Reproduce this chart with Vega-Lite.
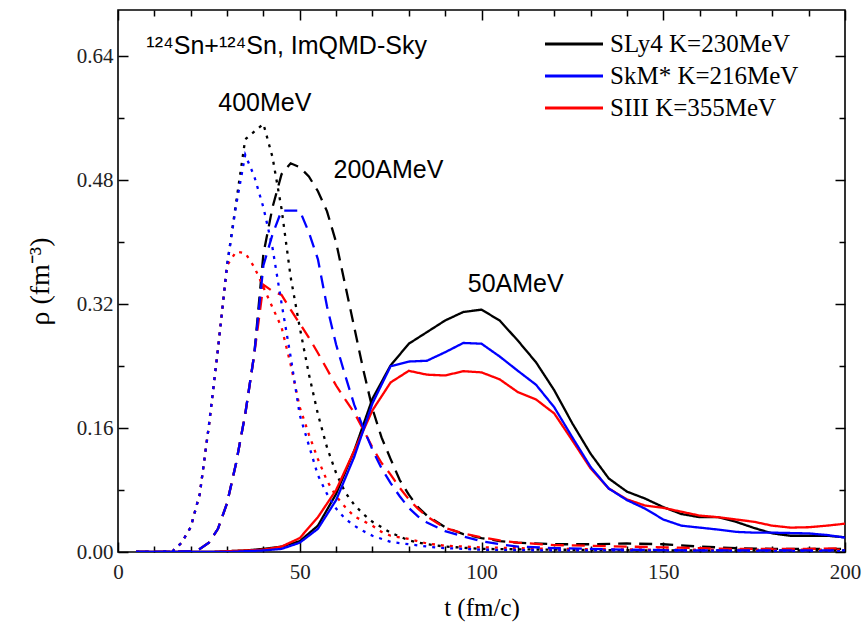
{
"$schema": "https://vega.github.io/schema/vega-lite/v6.json",
"width": 727, "height": 542,
"autosize": {"type": "none"},
"padding": {"left": 118, "top": 10, "right": 18, "bottom": 75},
"background": "white",
"config": {"view": {"stroke": "#000", "strokeWidth": 1.6}},
"datasets": {
"curves": [
{"m":"SLy4","e":"50","t":5,"r":0},{"m":"SLy4","e":"50","t":10,"r":0},{"m":"SLy4","e":"50","t":15,"r":0},{"m":"SLy4","e":"50","t":20,"r":0},{"m":"SLy4","e":"50","t":25,"r":0},{"m":"SLy4","e":"50","t":30,"r":0.001},{"m":"SLy4","e":"50","t":35,"r":0.002},{"m":"SLy4","e":"50","t":40,"r":0.004},{"m":"SLy4","e":"50","t":45,"r":0.007},{"m":"SLy4","e":"50","t":50,"r":0.014},{"m":"SLy4","e":"50","t":55,"r":0.034},{"m":"SLy4","e":"50","t":60,"r":0.075},{"m":"SLy4","e":"50","t":65,"r":0.131},{"m":"SLy4","e":"50","t":70,"r":0.198},{"m":"SLy4","e":"50","t":75,"r":0.241},{"m":"SLy4","e":"50","t":80,"r":0.269},{"m":"SLy4","e":"50","t":85,"r":0.284},{"m":"SLy4","e":"50","t":90,"r":0.299},{"m":"SLy4","e":"50","t":95,"r":0.31},{"m":"SLy4","e":"50","t":100,"r":0.313},{"m":"SLy4","e":"50","t":105,"r":0.299},{"m":"SLy4","e":"50","t":110,"r":0.273},{"m":"SLy4","e":"50","t":115,"r":0.245},{"m":"SLy4","e":"50","t":120,"r":0.209},{"m":"SLy4","e":"50","t":125,"r":0.166},{"m":"SLy4","e":"50","t":130,"r":0.127},{"m":"SLy4","e":"50","t":135,"r":0.095},{"m":"SLy4","e":"50","t":140,"r":0.078},{"m":"SLy4","e":"50","t":145,"r":0.069},{"m":"SLy4","e":"50","t":150,"r":0.058},{"m":"SLy4","e":"50","t":155,"r":0.049},{"m":"SLy4","e":"50","t":160,"r":0.045},{"m":"SLy4","e":"50","t":165,"r":0.045},{"m":"SLy4","e":"50","t":170,"r":0.039},{"m":"SLy4","e":"50","t":175,"r":0.031},{"m":"SLy4","e":"50","t":180,"r":0.024},{"m":"SLy4","e":"50","t":185,"r":0.021},{"m":"SLy4","e":"50","t":190,"r":0.021},{"m":"SLy4","e":"50","t":195,"r":0.021},{"m":"SLy4","e":"50","t":200,"r":0.019},

{"m":"SLy4","e":"200","t":5,"r":0},{"m":"SLy4","e":"200","t":10,"r":0},{"m":"SLy4","e":"200","t":15,"r":0},{"m":"SLy4","e":"200","t":20,"r":0.001},{"m":"SLy4","e":"200","t":22.5,"r":0.004},{"m":"SLy4","e":"200","t":25,"r":0.012},{"m":"SLy4","e":"200","t":27.5,"r":0.03},{"m":"SLy4","e":"200","t":30,"r":0.063},{"m":"SLy4","e":"200","t":32.5,"r":0.115},{"m":"SLy4","e":"200","t":35,"r":0.178},{"m":"SLy4","e":"200","t":37.5,"r":0.256},{"m":"SLy4","e":"200","t":40,"r":0.385},{"m":"SLy4","e":"200","t":42.5,"r":0.445},{"m":"SLy4","e":"200","t":45,"r":0.488},{"m":"SLy4","e":"200","t":47.5,"r":0.502},{"m":"SLy4","e":"200","t":50,"r":0.497},{"m":"SLy4","e":"200","t":52.5,"r":0.485},{"m":"SLy4","e":"200","t":55,"r":0.466},{"m":"SLy4","e":"200","t":57.5,"r":0.44},{"m":"SLy4","e":"200","t":60,"r":0.4},{"m":"SLy4","e":"200","t":62.5,"r":0.345},{"m":"SLy4","e":"200","t":65,"r":0.29},{"m":"SLy4","e":"200","t":67.5,"r":0.235},{"m":"SLy4","e":"200","t":70,"r":0.185},{"m":"SLy4","e":"200","t":72.5,"r":0.148},{"m":"SLy4","e":"200","t":75,"r":0.12},{"m":"SLy4","e":"200","t":77.5,"r":0.093},{"m":"SLy4","e":"200","t":80,"r":0.074},{"m":"SLy4","e":"200","t":82.5,"r":0.058},{"m":"SLy4","e":"200","t":85,"r":0.047},{"m":"SLy4","e":"200","t":90,"r":0.032},{"m":"SLy4","e":"200","t":95,"r":0.023},{"m":"SLy4","e":"200","t":100,"r":0.018},{"m":"SLy4","e":"200","t":105,"r":0.014},{"m":"SLy4","e":"200","t":110,"r":0.012},{"m":"SLy4","e":"200","t":120,"r":0.01},{"m":"SLy4","e":"200","t":130,"r":0.01},{"m":"SLy4","e":"200","t":140,"r":0.011},{"m":"SLy4","e":"200","t":150,"r":0.01},{"m":"SLy4","e":"200","t":160,"r":0.007},{"m":"SLy4","e":"200","t":170,"r":0.005},{"m":"SLy4","e":"200","t":180,"r":0.004},{"m":"SLy4","e":"200","t":190,"r":0.004},{"m":"SLy4","e":"200","t":200,"r":0.004},

{"m":"SLy4","e":"400","t":5,"r":0},{"m":"SLy4","e":"400","t":10,"r":0},{"m":"SLy4","e":"400","t":15,"r":0.001},{"m":"SLy4","e":"400","t":17.5,"r":0.012},{"m":"SLy4","e":"400","t":20,"r":0.032},{"m":"SLy4","e":"400","t":22.5,"r":0.075},{"m":"SLy4","e":"400","t":25,"r":0.163},{"m":"SLy4","e":"400","t":27.5,"r":0.262},{"m":"SLy4","e":"400","t":30,"r":0.37},{"m":"SLy4","e":"400","t":35,"r":0.533},{"m":"SLy4","e":"400","t":40,"r":0.553},{"m":"SLy4","e":"400","t":42.5,"r":0.51},{"m":"SLy4","e":"400","t":45,"r":0.443},{"m":"SLy4","e":"400","t":47.5,"r":0.355},{"m":"SLy4","e":"400","t":50,"r":0.29},{"m":"SLy4","e":"400","t":52.5,"r":0.23},{"m":"SLy4","e":"400","t":55,"r":0.178},{"m":"SLy4","e":"400","t":57.5,"r":0.135},{"m":"SLy4","e":"400","t":60,"r":0.102},{"m":"SLy4","e":"400","t":62.5,"r":0.077},{"m":"SLy4","e":"400","t":65,"r":0.061},{"m":"SLy4","e":"400","t":67.5,"r":0.049},{"m":"SLy4","e":"400","t":70,"r":0.039},{"m":"SLy4","e":"400","t":75,"r":0.025},{"m":"SLy4","e":"400","t":80,"r":0.015},{"m":"SLy4","e":"400","t":85,"r":0.01},{"m":"SLy4","e":"400","t":90,"r":0.007},{"m":"SLy4","e":"400","t":100,"r":0.004},{"m":"SLy4","e":"400","t":120,"r":0.003},{"m":"SLy4","e":"400","t":150,"r":0.002},{"m":"SLy4","e":"400","t":200,"r":0.002},

{"m":"SIII","e":"50","t":5,"r":0},{"m":"SIII","e":"50","t":10,"r":0},{"m":"SIII","e":"50","t":15,"r":0},{"m":"SIII","e":"50","t":20,"r":0},{"m":"SIII","e":"50","t":25,"r":0},{"m":"SIII","e":"50","t":30,"r":0.001},{"m":"SIII","e":"50","t":35,"r":0.002},{"m":"SIII","e":"50","t":40,"r":0.003},{"m":"SIII","e":"50","t":45,"r":0.007},{"m":"SIII","e":"50","t":50,"r":0.018},{"m":"SIII","e":"50","t":55,"r":0.045},{"m":"SIII","e":"50","t":60,"r":0.08},{"m":"SIII","e":"50","t":65,"r":0.131},{"m":"SIII","e":"50","t":70,"r":0.183},{"m":"SIII","e":"50","t":75,"r":0.219},{"m":"SIII","e":"50","t":80,"r":0.234},{"m":"SIII","e":"50","t":85,"r":0.229},{"m":"SIII","e":"50","t":90,"r":0.228},{"m":"SIII","e":"50","t":95,"r":0.2335},{"m":"SIII","e":"50","t":100,"r":0.232},{"m":"SIII","e":"50","t":105,"r":0.223},{"m":"SIII","e":"50","t":110,"r":0.2065},{"m":"SIII","e":"50","t":115,"r":0.197},{"m":"SIII","e":"50","t":120,"r":0.179},{"m":"SIII","e":"50","t":125,"r":0.144},{"m":"SIII","e":"50","t":130,"r":0.108},{"m":"SIII","e":"50","t":135,"r":0.082},{"m":"SIII","e":"50","t":140,"r":0.068},{"m":"SIII","e":"50","t":145,"r":0.06},{"m":"SIII","e":"50","t":150,"r":0.057},{"m":"SIII","e":"50","t":155,"r":0.052},{"m":"SIII","e":"50","t":160,"r":0.047},{"m":"SIII","e":"50","t":165,"r":0.045},{"m":"SIII","e":"50","t":170,"r":0.042},{"m":"SIII","e":"50","t":175,"r":0.039},{"m":"SIII","e":"50","t":180,"r":0.034},{"m":"SIII","e":"50","t":185,"r":0.0315},{"m":"SIII","e":"50","t":190,"r":0.032},{"m":"SIII","e":"50","t":195,"r":0.034},{"m":"SIII","e":"50","t":200,"r":0.0366},

{"m":"SIII","e":"200","t":5,"r":0},{"m":"SIII","e":"200","t":10,"r":0},{"m":"SIII","e":"200","t":15,"r":0},{"m":"SIII","e":"200","t":20,"r":0.001},{"m":"SIII","e":"200","t":22.5,"r":0.004},{"m":"SIII","e":"200","t":25,"r":0.012},{"m":"SIII","e":"200","t":27.5,"r":0.03},{"m":"SIII","e":"200","t":30,"r":0.063},{"m":"SIII","e":"200","t":32.5,"r":0.115},{"m":"SIII","e":"200","t":35,"r":0.178},{"m":"SIII","e":"200","t":37.5,"r":0.256},{"m":"SIII","e":"200","t":40,"r":0.345},{"m":"SIII","e":"200","t":42.5,"r":0.337},{"m":"SIII","e":"200","t":45,"r":0.332},{"m":"SIII","e":"200","t":47.5,"r":0.313},{"m":"SIII","e":"200","t":50,"r":0.295},{"m":"SIII","e":"200","t":52.5,"r":0.277},{"m":"SIII","e":"200","t":55,"r":0.257},{"m":"SIII","e":"200","t":57.5,"r":0.236},{"m":"SIII","e":"200","t":60,"r":0.215},{"m":"SIII","e":"200","t":62.5,"r":0.197},{"m":"SIII","e":"200","t":65,"r":0.18},{"m":"SIII","e":"200","t":67.5,"r":0.158},{"m":"SIII","e":"200","t":70,"r":0.135},{"m":"SIII","e":"200","t":72.5,"r":0.115},{"m":"SIII","e":"200","t":75,"r":0.1},{"m":"SIII","e":"200","t":77.5,"r":0.083},{"m":"SIII","e":"200","t":80,"r":0.068},{"m":"SIII","e":"200","t":82.5,"r":0.056},{"m":"SIII","e":"200","t":85,"r":0.046},{"m":"SIII","e":"200","t":90,"r":0.031},{"m":"SIII","e":"200","t":95,"r":0.024},{"m":"SIII","e":"200","t":100,"r":0.019},{"m":"SIII","e":"200","t":105,"r":0.015},{"m":"SIII","e":"200","t":110,"r":0.012},{"m":"SIII","e":"200","t":120,"r":0.009},{"m":"SIII","e":"200","t":130,"r":0.008},{"m":"SIII","e":"200","t":140,"r":0.007},{"m":"SIII","e":"200","t":150,"r":0.006},{"m":"SIII","e":"200","t":160,"r":0.005},{"m":"SIII","e":"200","t":170,"r":0.004},{"m":"SIII","e":"200","t":180,"r":0.004},{"m":"SIII","e":"200","t":190,"r":0.004},{"m":"SIII","e":"200","t":200,"r":0.005},

{"m":"SIII","e":"400","t":5,"r":0},{"m":"SIII","e":"400","t":10,"r":0},{"m":"SIII","e":"400","t":15,"r":0.001},{"m":"SIII","e":"400","t":17.5,"r":0.012},{"m":"SIII","e":"400","t":20,"r":0.032},{"m":"SIII","e":"400","t":22.5,"r":0.075},{"m":"SIII","e":"400","t":25,"r":0.163},{"m":"SIII","e":"400","t":27.5,"r":0.262},{"m":"SIII","e":"400","t":30,"r":0.37},{"m":"SIII","e":"400","t":32.5,"r":0.388},{"m":"SIII","e":"400","t":35,"r":0.386},{"m":"SIII","e":"400","t":37.5,"r":0.368},{"m":"SIII","e":"400","t":40,"r":0.342},{"m":"SIII","e":"400","t":42.5,"r":0.316},{"m":"SIII","e":"400","t":45,"r":0.29},{"m":"SIII","e":"400","t":47.5,"r":0.242},{"m":"SIII","e":"400","t":50,"r":0.187},{"m":"SIII","e":"400","t":52.5,"r":0.152},{"m":"SIII","e":"400","t":55,"r":0.12},{"m":"SIII","e":"400","t":57.5,"r":0.092},{"m":"SIII","e":"400","t":60,"r":0.072},{"m":"SIII","e":"400","t":62.5,"r":0.058},{"m":"SIII","e":"400","t":65,"r":0.046},{"m":"SIII","e":"400","t":67.5,"r":0.04},{"m":"SIII","e":"400","t":70,"r":0.034},{"m":"SIII","e":"400","t":72.5,"r":0.026},{"m":"SIII","e":"400","t":75,"r":0.021},{"m":"SIII","e":"400","t":80,"r":0.017},{"m":"SIII","e":"400","t":85,"r":0.011},{"m":"SIII","e":"400","t":90,"r":0.008},{"m":"SIII","e":"400","t":100,"r":0.006},{"m":"SIII","e":"400","t":110,"r":0.005},{"m":"SIII","e":"400","t":120,"r":0.004},{"m":"SIII","e":"400","t":150,"r":0.003},{"m":"SIII","e":"400","t":200,"r":0.003},

{"m":"SkM*","e":"50","t":5,"r":0},{"m":"SkM*","e":"50","t":10,"r":0},{"m":"SkM*","e":"50","t":15,"r":0},{"m":"SkM*","e":"50","t":20,"r":0},{"m":"SkM*","e":"50","t":25,"r":0},{"m":"SkM*","e":"50","t":30,"r":0},{"m":"SkM*","e":"50","t":35,"r":0.001},{"m":"SkM*","e":"50","t":40,"r":0.002},{"m":"SkM*","e":"50","t":45,"r":0.004},{"m":"SkM*","e":"50","t":50,"r":0.012},{"m":"SkM*","e":"50","t":55,"r":0.03},{"m":"SkM*","e":"50","t":60,"r":0.067},{"m":"SkM*","e":"50","t":65,"r":0.123},{"m":"SkM*","e":"50","t":70,"r":0.192},{"m":"SkM*","e":"50","t":75,"r":0.24},{"m":"SkM*","e":"50","t":80,"r":0.246},{"m":"SkM*","e":"50","t":85,"r":0.247},{"m":"SkM*","e":"50","t":90,"r":0.258},{"m":"SkM*","e":"50","t":95,"r":0.27},{"m":"SkM*","e":"50","t":100,"r":0.269},{"m":"SkM*","e":"50","t":105,"r":0.2525},{"m":"SkM*","e":"50","t":110,"r":0.234},{"m":"SkM*","e":"50","t":115,"r":0.216},{"m":"SkM*","e":"50","t":120,"r":0.187},{"m":"SkM*","e":"50","t":125,"r":0.148},{"m":"SkM*","e":"50","t":130,"r":0.11},{"m":"SkM*","e":"50","t":135,"r":0.082},{"m":"SkM*","e":"50","t":140,"r":0.067},{"m":"SkM*","e":"50","t":145,"r":0.056},{"m":"SkM*","e":"50","t":150,"r":0.042},{"m":"SkM*","e":"50","t":155,"r":0.034},{"m":"SkM*","e":"50","t":160,"r":0.0315},{"m":"SkM*","e":"50","t":165,"r":0.029},{"m":"SkM*","e":"50","t":170,"r":0.026},{"m":"SkM*","e":"50","t":175,"r":0.025},{"m":"SkM*","e":"50","t":180,"r":0.025},{"m":"SkM*","e":"50","t":185,"r":0.0245},{"m":"SkM*","e":"50","t":190,"r":0.024},{"m":"SkM*","e":"50","t":195,"r":0.022},{"m":"SkM*","e":"50","t":200,"r":0.0186},

{"m":"SkM*","e":"200","t":5,"r":0},{"m":"SkM*","e":"200","t":10,"r":0},{"m":"SkM*","e":"200","t":15,"r":0},{"m":"SkM*","e":"200","t":20,"r":0.001},{"m":"SkM*","e":"200","t":22.5,"r":0.004},{"m":"SkM*","e":"200","t":25,"r":0.012},{"m":"SkM*","e":"200","t":27.5,"r":0.03},{"m":"SkM*","e":"200","t":30,"r":0.063},{"m":"SkM*","e":"200","t":32.5,"r":0.115},{"m":"SkM*","e":"200","t":35,"r":0.178},{"m":"SkM*","e":"200","t":37.5,"r":0.256},{"m":"SkM*","e":"200","t":40,"r":0.37},{"m":"SkM*","e":"200","t":42.5,"r":0.41},{"m":"SkM*","e":"200","t":45,"r":0.441},{"m":"SkM*","e":"200","t":47.5,"r":0.441},{"m":"SkM*","e":"200","t":50,"r":0.441},{"m":"SkM*","e":"200","t":52.5,"r":0.413},{"m":"SkM*","e":"200","t":55,"r":0.378},{"m":"SkM*","e":"200","t":57.5,"r":0.317},{"m":"SkM*","e":"200","t":60,"r":0.268},{"m":"SkM*","e":"200","t":62.5,"r":0.228},{"m":"SkM*","e":"200","t":65,"r":0.19},{"m":"SkM*","e":"200","t":67.5,"r":0.16},{"m":"SkM*","e":"200","t":70,"r":0.132},{"m":"SkM*","e":"200","t":72.5,"r":0.108},{"m":"SkM*","e":"200","t":75,"r":0.089},{"m":"SkM*","e":"200","t":77.5,"r":0.072},{"m":"SkM*","e":"200","t":80,"r":0.057},{"m":"SkM*","e":"200","t":82.5,"r":0.046},{"m":"SkM*","e":"200","t":85,"r":0.038},{"m":"SkM*","e":"200","t":90,"r":0.027},{"m":"SkM*","e":"200","t":95,"r":0.02},{"m":"SkM*","e":"200","t":100,"r":0.014},{"m":"SkM*","e":"200","t":105,"r":0.01},{"m":"SkM*","e":"200","t":110,"r":0.007},{"m":"SkM*","e":"200","t":120,"r":0.005},{"m":"SkM*","e":"200","t":140,"r":0.003},{"m":"SkM*","e":"200","t":160,"r":0.002},{"m":"SkM*","e":"200","t":200,"r":0.002},

{"m":"SkM*","e":"400","t":5,"r":0},{"m":"SkM*","e":"400","t":10,"r":0},{"m":"SkM*","e":"400","t":15,"r":0.001},{"m":"SkM*","e":"400","t":17.5,"r":0.012},{"m":"SkM*","e":"400","t":20,"r":0.032},{"m":"SkM*","e":"400","t":22.5,"r":0.075},{"m":"SkM*","e":"400","t":25,"r":0.163},{"m":"SkM*","e":"400","t":27.5,"r":0.262},{"m":"SkM*","e":"400","t":30,"r":0.37},{"m":"SkM*","e":"400","t":32.5,"r":0.448},{"m":"SkM*","e":"400","t":35,"r":0.513},{"m":"SkM*","e":"400","t":37.5,"r":0.485},{"m":"SkM*","e":"400","t":40,"r":0.445},{"m":"SkM*","e":"400","t":42.5,"r":0.393},{"m":"SkM*","e":"400","t":45,"r":0.321},{"m":"SkM*","e":"400","t":47.5,"r":0.252},{"m":"SkM*","e":"400","t":50,"r":0.177},{"m":"SkM*","e":"400","t":52.5,"r":0.138},{"m":"SkM*","e":"400","t":55,"r":0.099},{"m":"SkM*","e":"400","t":57.5,"r":0.075},{"m":"SkM*","e":"400","t":60,"r":0.056},{"m":"SkM*","e":"400","t":62.5,"r":0.043},{"m":"SkM*","e":"400","t":65,"r":0.034},{"m":"SkM*","e":"400","t":67.5,"r":0.027},{"m":"SkM*","e":"400","t":70,"r":0.021},{"m":"SkM*","e":"400","t":75,"r":0.013},{"m":"SkM*","e":"400","t":80,"r":0.01},{"m":"SkM*","e":"400","t":85,"r":0.007},{"m":"SkM*","e":"400","t":90,"r":0.005},{"m":"SkM*","e":"400","t":100,"r":0.003},{"m":"SkM*","e":"400","t":120,"r":0.002},{"m":"SkM*","e":"400","t":150,"r":0.002},{"m":"SkM*","e":"400","t":200,"r":0.001}
],
"notes": [
{"t":40.4,"r":0.570,"label":"400MeV"},
{"t":74.4,"r":0.4834,"label":"200AMeV"},
{"t":109.4,"r":0.3357,"label":"50AMeV"}
],
"heading": [
{"t":7.8,"r":0.6426,"label":"¹²⁴Sn+¹²⁴Sn, ImQMD-Sky"}
]
},
"layer": [
{
"data": {"name": "curves"},
"mark": {"type": "line", "strokeWidth": 2.3, "clip": true},
"encoding": {
"x": {"field": "t", "type": "quantitative", "scale": {"domain": [0, 200], "nice": false, "zero": false},
"axis": {"orient": "bottom", "values": [0,10,20,30,40,50,60,70,80,90,100,110,120,130,140,150,160,170,180,190,200],
"tickSize": {"condition": {"test": "datum.value % 50 === 0", "value": -10}, "value": -6},
"tickColor": "#000", "tickWidth": 1.5, "domain": false, "grid": false,
"labelExpr": "datum.value % 50 === 0 ? datum.label : ''", "labelFlush": false, "labelOverlap": false,
"labelFont": "Liberation Serif", "labelFontSize": 21, "labelColor": "#222", "labelPadding": 19,
"title": "t (fm/c)", "titleFont": "Liberation Serif", "titleFontSize": 25, "titleFontWeight": "normal", "titleColor": "#000", "titlePadding": 9}},
"y": {"field": "r", "type": "quantitative", "scale": {"domain": [0, 0.7], "nice": false},
"axis": {"orient": "left", "values": [0,0.08,0.16,0.24,0.32,0.40,0.48,0.56,0.64],
"tickSize": {"condition": {"test": "round(datum.value*100) % 16 === 0", "value": -10}, "value": -6},
"tickColor": "#000", "tickWidth": 1.5, "domain": false, "grid": false, "format": ".2f",
"labelExpr": "round(datum.value*100) % 16 === 0 ? datum.label : ''", "labelOverlap": false,
"labelFont": "Liberation Serif", "labelFontSize": 21, "labelColor": "#222", "labelPadding": 15,
"title": "ρ (fm⁻³)", "titleFont": "Liberation Serif", "titleFontSize": 28, "titleFontWeight": "normal", "titleColor": "#000", "titlePadding": 22}},
"color": {"field": "m", "type": "nominal",
"scale": {"domain": ["SLy4", "SkM*", "SIII"], "range": ["#000000", "#0000ff", "#ff0000"]},
"legend": {"orient": "none", "legendX": 440, "legendY": 18, "title": null, "symbolType": "M-2,0H2", "symbolSize": 841, "symbolStrokeWidth": 3,
"labelFont": "Liberation Serif", "labelFontSize": 25, "labelColor": "#000", "labelOffset": 20, "labelLimit": 0, "rowPadding": 3,
"labelExpr": "datum.label === 'SLy4' ? 'SLy4 K=230MeV' : datum.label === 'SkM*' ? 'SkM* K=216MeV' : 'SIII K=355MeV'"}},
"strokeDash": {"field": "e", "type": "nominal",
"scale": {"domain": ["50", "200", "400"], "range": [[1, 0], [13, 8], [3, 6]]}, "legend": null}
}
},
{
"data": {"name": "notes"},
"mark": {"type": "text", "font": "Liberation Sans", "fontSize": 25, "align": "center", "baseline": "alphabetic", "color": "#000"},
"encoding": {
"x": {"field": "t", "type": "quantitative", "scale": {"domain": [0, 200], "nice": false, "zero": false},
"axis": {"orient": "top", "values": [0,10,20,30,40,50,60,70,80,90,100,110,120,130,140,150,160,170,180,190,200],
"tickSize": {"condition": {"test": "datum.value % 50 === 0", "value": -10}, "value": -6},
"tickColor": "#000", "tickWidth": 1.5, "domain": false, "grid": false, "labels": false, "title": null}},
"y": {"field": "r", "type": "quantitative", "scale": {"domain": [0, 0.7], "nice": false},
"axis": {"orient": "right", "values": [0,0.08,0.16,0.24,0.32,0.40,0.48,0.56,0.64],
"tickSize": {"condition": {"test": "round(datum.value*100) % 16 === 0", "value": -10}, "value": -6},
"tickColor": "#000", "tickWidth": 1.5, "domain": false, "grid": false, "labels": false, "title": null}},
"text": {"field": "label"}
}
},
{
"data": {"name": "heading"},
"mark": {"type": "text", "font": "Liberation Sans", "fontSize": 25, "align": "left", "baseline": "alphabetic", "color": "#000"},
"encoding": {
"x": {"field": "t", "type": "quantitative", "axis": null},
"y": {"field": "r", "type": "quantitative", "axis": null},
"text": {"field": "label"}
}
}
],
"resolve": {"axis": {"x": "independent", "y": "independent"}}
}
